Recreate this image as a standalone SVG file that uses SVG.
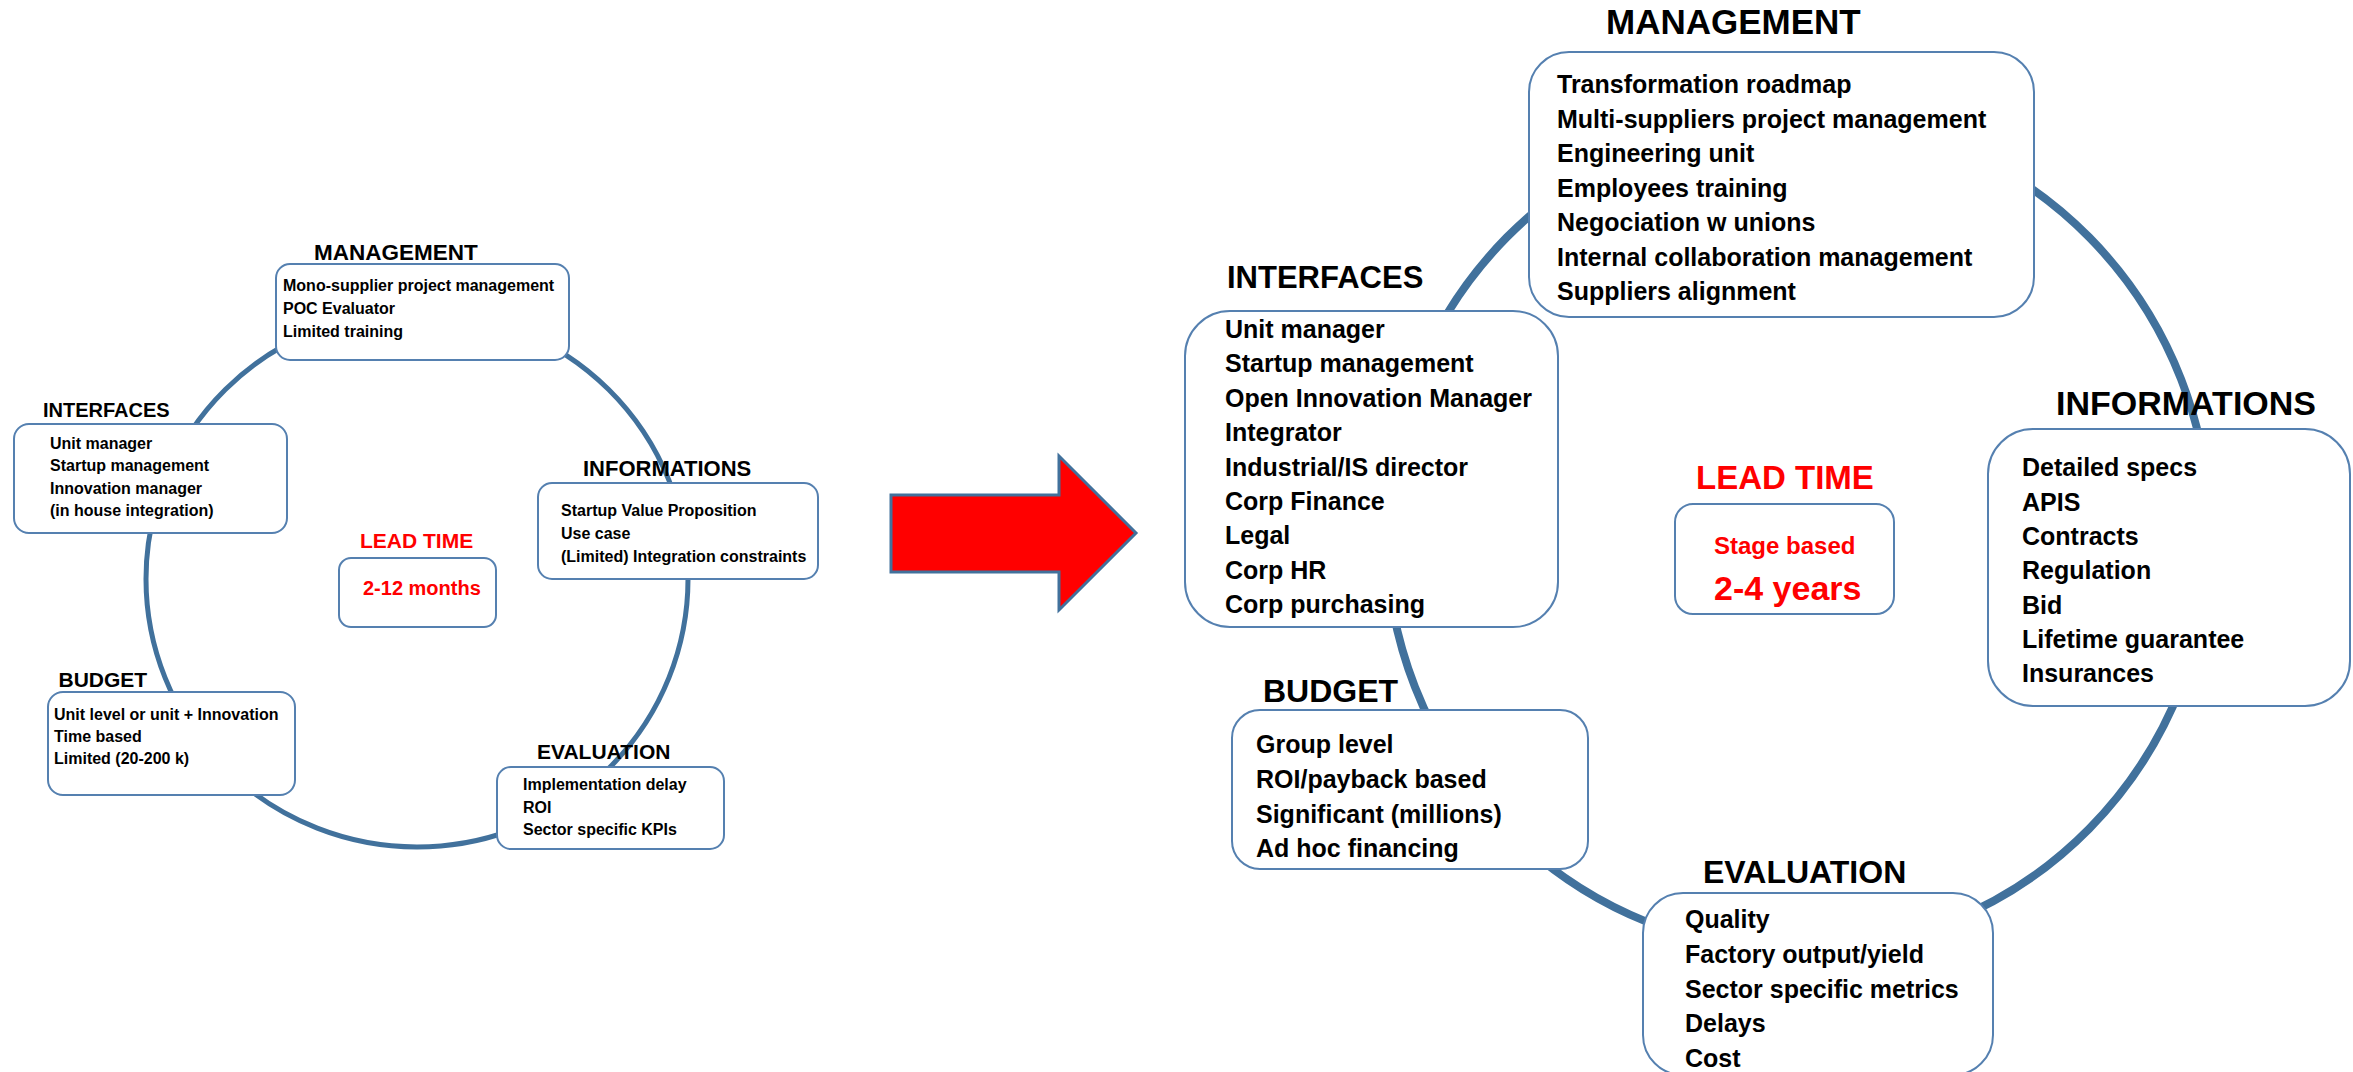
<svg xmlns="http://www.w3.org/2000/svg" width="2353" height="1072" viewBox="0 0 2353 1072">
<style>
.ring{fill:none;stroke:#41719C}
.box{fill:#fff;stroke:#5580B0;stroke-width:2}
.t{font-family:"Liberation Sans",Arial,sans-serif;font-weight:bold;fill:#000}
.red{fill:#FF0000}
.ls{font-size:16px}
.rs{font-size:25px}
</style>
<rect width="2353" height="1072" fill="#fff"/>
<g id="connectors">
<ellipse class="ring" cx="417" cy="579" rx="271" ry="268" stroke-width="5"/>
<ellipse class="ring" cx="1798" cy="533" rx="412" ry="418" stroke-width="8"/>
<polygon id="arrow" points="891,495 1059,495 1059,456 1136,533 1059,610 1059,572 891,572" fill="#FF0000" stroke="#41719C" stroke-width="3"/>
</g>
<!-- LEFT DIAGRAM -->
<g id="l-management">
<text class="t" x="314" y="260" font-size="22.5">MANAGEMENT</text>
<rect class="box" x="276" y="264" width="293" height="96" rx="14"/>
<text class="t ls" x="283" y="291">Mono-supplier project management</text>
<text class="t ls" x="283" y="314">POC Evaluator</text>
<text class="t ls" x="283" y="337">Limited training</text>
</g>
<g id="l-interfaces">
<text class="t" x="43" y="417" font-size="20">INTERFACES</text>
<rect class="box" x="14" y="424" width="273" height="109" rx="15"/>
<text class="t ls" x="50" y="449">Unit manager</text>
<text class="t ls" x="50" y="471">Startup management</text>
<text class="t ls" x="50" y="494">Innovation manager</text>
<text class="t ls" x="50" y="516">(in house integration)</text>
</g>
<g id="l-informations">
<text class="t" x="583" y="476" font-size="22">INFORMATIONS</text>
<rect class="box" x="538" y="483" width="280" height="96" rx="14"/>
<text class="t ls" x="561" y="516">Startup Value Proposition</text>
<text class="t ls" x="561" y="539">Use case</text>
<text class="t ls" x="561" y="562">(Limited) Integration constraints</text>
</g>
<g id="l-leadtime">
<text class="t red" x="360" y="548" font-size="21">LEAD TIME</text>
<rect class="box" x="339" y="558" width="157" height="69" rx="12"/>
<text class="t red" x="363" y="595" font-size="20">2-12 months</text>
</g>
<g id="l-budget">
<text class="t" x="58.5" y="687" font-size="21">BUDGET</text>
<rect class="box" x="48" y="692" width="247" height="103" rx="15"/>
<text class="t ls" x="54" y="720">Unit level or unit + Innovation</text>
<text class="t ls" x="54" y="742">Time based</text>
<text class="t ls" x="54" y="764">Limited (20-200 k)</text>
</g>
<g id="l-evaluation">
<text class="t" x="537" y="759" font-size="21">EVALUATION</text>
<rect class="box" x="497" y="767" width="227" height="82" rx="14"/>
<text class="t ls" x="523" y="790">Implementation delay</text>
<text class="t ls" x="523" y="813">ROI</text>
<text class="t ls" x="523" y="835">Sector specific KPIs</text>
</g>
<!-- RIGHT DIAGRAM -->
<g id="r-management">
<text class="t" x="1606" y="34" font-size="35">MANAGEMENT</text>
<rect class="box" x="1529" y="52" width="505" height="265" rx="40"/>
<text class="t rs" x="1557" y="93">Transformation roadmap</text>
<text class="t rs" x="1557" y="127.5">Multi-suppliers project management</text>
<text class="t rs" x="1557" y="162">Engineering unit</text>
<text class="t rs" x="1557" y="196.5">Employees training</text>
<text class="t rs" x="1557" y="231">Negociation w unions</text>
<text class="t rs" x="1557" y="265.5">Internal collaboration management</text>
<text class="t rs" x="1557" y="300">Suppliers alignment</text>
</g>
<g id="r-interfaces">
<text class="t" x="1227" y="288" font-size="31">INTERFACES</text>
<rect class="box" x="1185" y="311" width="373" height="316" rx="45"/>
<text class="t rs" x="1225" y="338">Unit manager</text>
<text class="t rs" x="1225" y="372.4">Startup management</text>
<text class="t rs" x="1225" y="406.8">Open Innovation Manager</text>
<text class="t rs" x="1225" y="441.2">Integrator</text>
<text class="t rs" x="1225" y="475.6">Industrial/IS director</text>
<text class="t rs" x="1225" y="510">Corp Finance</text>
<text class="t rs" x="1225" y="544.4">Legal</text>
<text class="t rs" x="1225" y="578.8">Corp HR</text>
<text class="t rs" x="1225" y="613.2">Corp purchasing</text>
</g>
<g id="r-informations">
<text class="t" x="2056" y="415" font-size="34">INFORMATIONS</text>
<rect class="box" x="1988" y="429" width="362" height="277" rx="45"/>
<text class="t rs" x="2022" y="476">Detailed specs</text>
<text class="t rs" x="2022" y="510.5">APIS</text>
<text class="t rs" x="2022" y="545">Contracts</text>
<text class="t rs" x="2022" y="579">Regulation</text>
<text class="t rs" x="2022" y="613.5">Bid</text>
<text class="t rs" x="2022" y="648">Lifetime guarantee</text>
<text class="t rs" x="2022" y="682">Insurances</text>
</g>
<g id="r-leadtime">
<text class="t red" x="1696" y="489" font-size="33">LEAD TIME</text>
<rect class="box" x="1675" y="504" width="219" height="110" rx="18"/>
<text class="t red" x="1714" y="554" font-size="24">Stage based</text>
<text class="t red" x="1714" y="600" font-size="34">2-4 years</text>
</g>
<g id="r-budget">
<text class="t" x="1263" y="702" font-size="32">BUDGET</text>
<rect class="box" x="1232" y="710" width="356" height="159" rx="28"/>
<text class="t rs" x="1256" y="753">Group level</text>
<text class="t rs" x="1256" y="788">ROI/payback based</text>
<text class="t rs" x="1256" y="823">Significant (millions)</text>
<text class="t rs" x="1256" y="857">Ad hoc financing</text>
</g>
<g id="r-evaluation">
<text class="t" x="1703" y="883" font-size="32">EVALUATION</text>
<rect class="box" x="1643" y="893" width="350" height="182" rx="40"/>
<text class="t rs" x="1685" y="928">Quality</text>
<text class="t rs" x="1685" y="963">Factory output/yield</text>
<text class="t rs" x="1685" y="998">Sector specific metrics</text>
<text class="t rs" x="1685" y="1032">Delays</text>
<text class="t rs" x="1685" y="1067">Cost</text>
</g>
</svg>
